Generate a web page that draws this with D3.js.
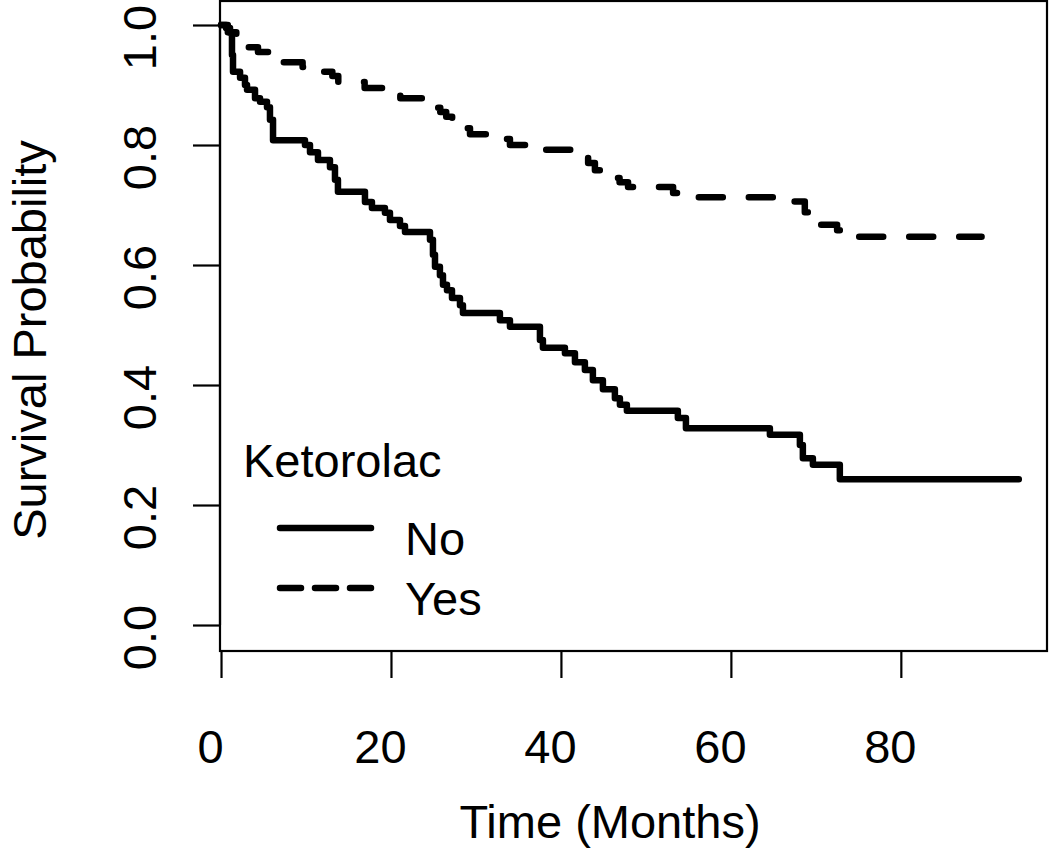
<!DOCTYPE html>
<html>
<head>
<meta charset="utf-8">
<script src="https://cdn.jsdelivr.net/npm/d3@7"></script>
<style>
  html, body { margin: 0; padding: 0; background: #fff; }
  svg { display: block; }
  text { font-family: "Liberation Sans", Arial, sans-serif; fill: #000; }
</style>
</head>
<body>
<svg id="chart" width="1050" height="852"></svg>
<script>
// ---- Data ----
const noTimes = [0, 0.59, 1.06, 1.29, 1.41, 2.24, 2.82, 3.06, 4.0, 4.59, 5.41, 5.76, 6.12, 9.88, 10.47, 11.41, 12.82, 13.41, 13.76, 16.94, 17.76, 19.29, 19.88, 21.06, 21.65, 24.59, 24.94, 25.18, 25.76, 26.12, 26.59, 27.18, 28.12, 28.47, 32.82, 34.0, 37.53, 37.88, 40.47, 41.65, 42.82, 43.76, 44.94, 46.35, 46.94, 47.76, 53.76, 54.71, 64.59, 68.12, 68.47, 69.65, 72.82, 93.88];
const noSurv  = [1.0, 0.995, 0.987, 0.95, 0.922, 0.912, 0.90, 0.892, 0.878, 0.872, 0.863, 0.842, 0.808, 0.80, 0.788, 0.775, 0.763, 0.742, 0.722, 0.705, 0.695, 0.687, 0.675, 0.665, 0.655, 0.642, 0.617, 0.597, 0.583, 0.567, 0.558, 0.545, 0.533, 0.52, 0.508, 0.497, 0.475, 0.462, 0.453, 0.438, 0.425, 0.408, 0.393, 0.378, 0.367, 0.357, 0.345, 0.328, 0.317, 0.30, 0.278, 0.267, 0.243, 0.243];

const yesTimes = [0, 0.8, 1.8, 2.8, 4.35, 6.0, 6.9, 9.6, 11.8, 13.1, 13.8, 16.9, 20.1, 21.1, 24.6, 25.8, 26.5, 27.2, 27.9, 29.3, 32.5, 34.0, 36.9, 42.0, 43.2, 44.0, 45.8, 46.9, 47.9, 53.2, 55.2, 66.1, 68.7, 69.3, 72.5, 73.8, 89.5];
const yesSurv  = [1.0, 0.988, 0.976, 0.963, 0.955, 0.947, 0.938, 0.93, 0.922, 0.915, 0.905, 0.895, 0.887, 0.878, 0.862, 0.855, 0.847, 0.84, 0.828, 0.818, 0.81, 0.80, 0.792, 0.78, 0.77, 0.758, 0.745, 0.738, 0.73, 0.72, 0.713, 0.706, 0.688, 0.667, 0.658, 0.647, 0.647];

const xTicks = [0, 20, 40, 60, 80];
const yTicks = [0.0, 0.2, 0.4, 0.6, 0.8, 1.0];
const legendTitle = "Ketorolac";
const groups = ["No", "Yes"];
const xTitle = "Time (Months)";
const yTitle = "Survival Probability";

// ---- Layout ----
const svg = d3.select("#chart");
const x = d3.scaleLinear().domain([-0.12, 97.2]).range([220, 1047]);
const y = d3.scaleLinear().domain([-0.0433, 1.04]).range([651, 1]);
const fs = 47;

// plot box
svg.append("rect")
  .attr("x", x.range()[0]).attr("y", y.range()[1])
  .attr("width", x.range()[1] - x.range()[0])
  .attr("height", y.range()[0] - y.range()[1])
  .attr("fill", "none").attr("stroke", "#000").attr("stroke-width", 2.2);

// x axis
const xAxis = d3.axisBottom(x).tickValues(xTicks).tickSize(27).tickSizeOuter(0).tickFormat(d3.format("d"));
const gx = svg.append("g").attr("transform", `translate(0,${y.range()[0]})`).call(xAxis);
gx.select(".domain").attr("d", `M${x(0)},0H${x(80)}`).attr("stroke", "#000").attr("stroke-width", 2.2);
gx.selectAll(".tick line").attr("stroke", "#000").attr("stroke-width", 2.2);
gx.selectAll(".tick text")
  .attr("y", 0).attr("dy", 0)
  .attr("transform", "translate(-11,112)")
  .style("font-size", fs + "px")
  .style("font-family", "Liberation Sans, Arial, sans-serif")
  .attr("fill", "#000");

// y axis
const yAxis = d3.axisLeft(y).tickValues(yTicks).tickSize(27).tickSizeOuter(0).tickFormat(d3.format(".1f"));
const gy = svg.append("g").attr("transform", `translate(${x.range()[0]},0)`).call(yAxis);
gy.select(".domain").attr("d", `M0,${y(0)}V${y(1)}`).attr("stroke", "#000").attr("stroke-width", 2.2);
gy.selectAll(".tick line").attr("stroke", "#000").attr("stroke-width", 2.2);
gy.selectAll(".tick text")
  .attr("x", 0).attr("dy", 0)
  .attr("transform", "translate(-64,12) rotate(-90)")
  .attr("text-anchor", "middle")
  .style("font-size", fs + "px")
  .style("font-family", "Liberation Sans, Arial, sans-serif")
  .attr("fill", "#000");

// axis titles
svg.append("text")
  .attr("x", 610).attr("y", 838)
  .attr("text-anchor", "middle")
  .style("font-size", fs + "px")
  .text(xTitle);
svg.append("text")
  .attr("transform", `translate(46,340) rotate(-90)`)
  .attr("text-anchor", "middle")
  .style("font-size", fs + "px")
  .text(yTitle);

// curves
const line = d3.line().x(d => x(d[0])).y(d => y(d[1])).curve(d3.curveStepAfter);
const noData = noTimes.map((t, i) => [t, noSurv[i]]);
const yesData = yesTimes.map((t, i) => [t, yesSurv[i]]);

svg.append("path").datum(noData)
  .attr("d", line).attr("fill", "none")
  .attr("stroke", "#000").attr("stroke-width", 6.5)
  .attr("stroke-linejoin", "round").attr("stroke-linecap", "round");

svg.append("path").datum(yesData)
  .attr("d", line).attr("fill", "none")
  .attr("stroke", "#000").attr("stroke-width", 6.5)
  .attr("stroke-dasharray", "24,26")
  .attr("stroke-linejoin", "round").attr("stroke-linecap", "round");

// legend
const lg = svg.append("g");
lg.append("text").attr("x", 243).attr("y", 477).style("font-size", fs + "px").text(legendTitle);
const rows = [{label: groups[0], dash: null, yy: 528, ty: 555}, {label: groups[1], dash: "21,14", yy: 588, ty: 615}];
rows.forEach(r => {
  lg.append("line").attr("x1", 280).attr("x2", 371).attr("y1", r.yy).attr("y2", r.yy)
    .attr("stroke", "#000").attr("stroke-width", 6.5).attr("stroke-linecap", "round")
    .attr("stroke-dasharray", r.dash);
  lg.append("text").attr("x", 405).attr("y", r.ty).style("font-size", fs + "px").text(r.label);
});
</script>
</body>
</html>
